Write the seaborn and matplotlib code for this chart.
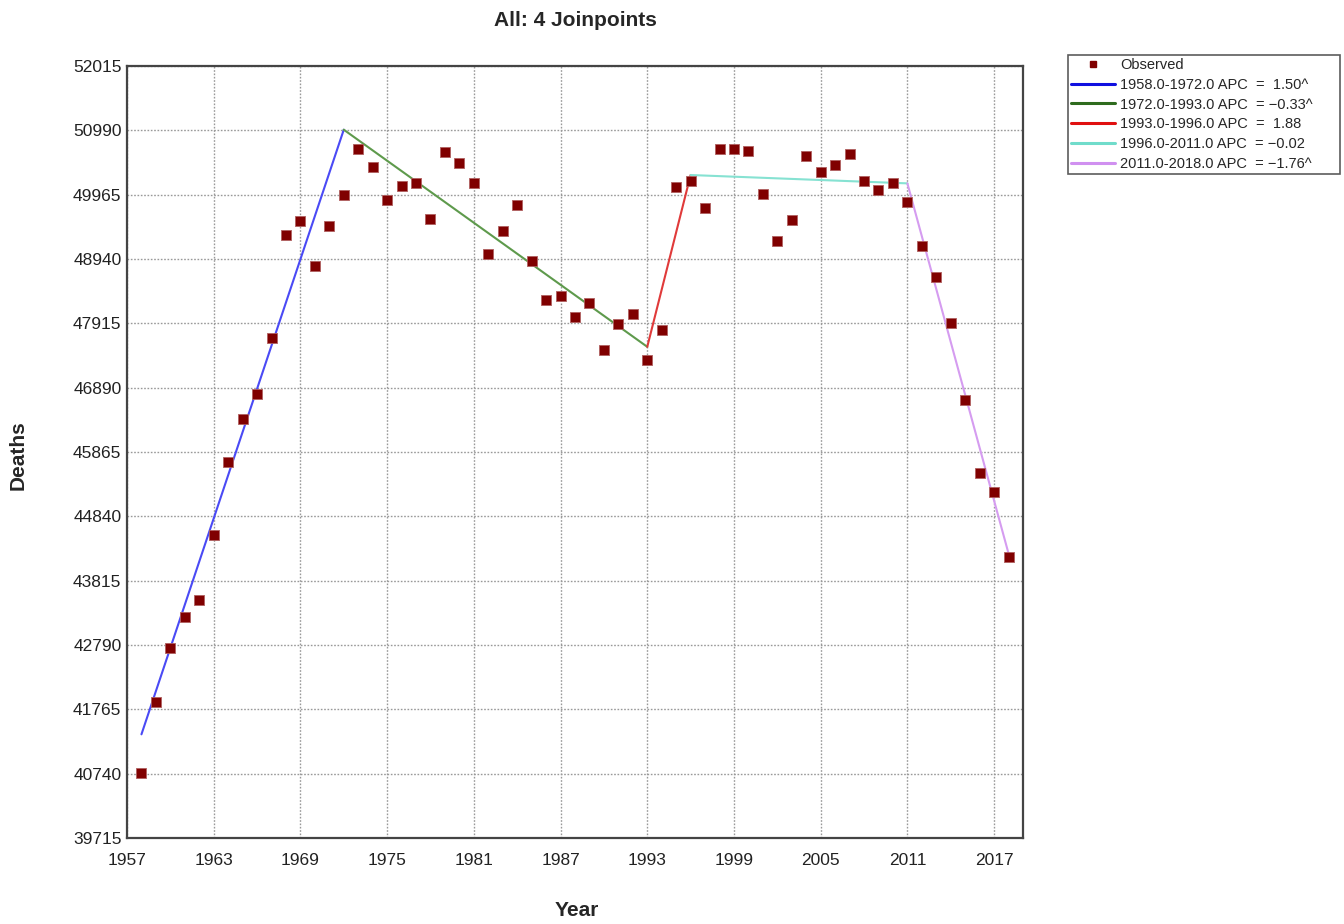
import matplotlib
matplotlib.use("Agg")
import matplotlib.pyplot as plt
import seaborn as sns
import pandas as pd
import numpy as np
from matplotlib.lines import Line2D

years = list(range(1958, 2019))
deaths = [40745, 41882, 42749, 43237, 43503, 44539, 45698, 46393, 46782, 47679,
          49316, 49549, 48832, 49460, 49954, 50692, 50410, 49874, 50107, 50145,
          49581, 50649, 50464, 50155, 49023, 49385, 49799, 48912, 48280, 48349,
          48014, 48237, 47488, 47908, 48057, 47323, 47807, 50092, 50182, 49757,
          50697, 50697, 50665, 49975, 49225, 49555, 50586, 50331, 50442, 50618,
          50177, 50038, 50155, 49847, 49146, 48647, 47913, 46691, 45538, 45230,
          44194]

seg_labels = ["1958.0-1972.0 APC  =  1.50^", "1972.0-1993.0 APC  = \u22120.33^",
              "1993.0-1996.0 APC  =  1.88", "1996.0-2011.0 APC  = \u22120.02",
              "2011.0-2018.0 APC  = \u22121.76^"]
seg_start_year = [1958, 1972, 1993, 1996, 2011]
seg_end_year = [1972, 1993, 1996, 2011, 2018]
seg_start_val = [41367, 51000, 47541, 50278, 50145]
seg_end_val = [51000, 47541, 50278, 50145, 44247]
seg_colors = ["#4a4af5", "#5e9a4c", "#e03a3a", "#86e2d2", "#d59cf0"]
legend_colors = ["#1010e0", "#2e6b1e", "#e01010", "#70dccb", "#d090f0"]

xticks = list(range(1957, 2018, 6))
yticks = list(range(39715, 52016, 1025))

sns.set_theme(style="white")
plt.rcParams['font.family'] = ['Liberation Sans', 'DejaVu Sans']

fig = plt.figure(figsize=(13.44, 9.24), dpi=100)
ax = fig.add_axes([127/1344, 1-838/924, (1023-127)/1344, (838-66)/924])

obs = pd.DataFrame({"Year": years, "Deaths": deaths})
for i in range(len(seg_labels)):
    seg = pd.DataFrame({"Year": [seg_start_year[i], seg_end_year[i]],
                        "Deaths": [seg_start_val[i], seg_end_val[i]]})
    sns.lineplot(data=seg, x="Year", y="Deaths", ax=ax, color=seg_colors[i],
                 linewidth=1.5, zorder=2, legend=False)
sns.scatterplot(data=obs, x="Year", y="Deaths", ax=ax, marker="s", s=62,
                color="#800000", edgecolor="#b06060", linewidth=0.6, zorder=3,
                legend=False)

ax.set_xlim(1957, 2019)
ax.set_ylim(39715, 52015)
ax.set_xticks(xticks)
ax.set_yticks(yticks)
ax.set_xticklabels([str(t) for t in xticks], fontsize=12.5, color="#222222")
ax.set_yticklabels([str(t) for t in yticks], fontsize=12.5, color="#222222")
ax.tick_params(axis="y", length=0, pad=4)
ax.tick_params(axis="x", length=0, pad=11)
ax.grid(True, color="#999999", linestyle=(0, (1.2, 1.2)), linewidth=1.0)
for sp in ax.spines.values():
    sp.set_color("#444444")
    sp.set_linewidth(1.6)
ax.set_xlabel("")
ax.set_ylabel("")

fig.text(575/1344, 1-20/924, "All: 4 Joinpoints", ha="center", va="center",
         fontsize=15, fontweight="bold")
fig.text(18/1344, 1-455/924, "Deaths", ha="center", va="center", rotation=90,
         fontsize=15, fontweight="bold")
fig.text(577/1344, 1-910/924, "Year", ha="center", va="center",
         fontsize=15, fontweight="bold")

handles = [Line2D([], [], marker="s", linestyle="none", color="#800000",
                  markersize=5)]
handles += [Line2D([], [], color=c, linewidth=2.2) for c in legend_colors]
labels = ["Observed"] + seg_labels
x0, x1 = 1068/1344, 1340/1344
leg = fig.legend(handles, labels, loc="upper left",
                 bbox_to_anchor=(x0, 1-180/924, x1 - x0, (180-55)/924),
                 mode="expand", fontsize=10.5,
                 frameon=True, fancybox=False, handlelength=3.0,
                 handletextpad=0.4, labelspacing=0.4, borderpad=0.2,
                 borderaxespad=0)
leg.get_frame().set_edgecolor("#333333")
leg.get_frame().set_linewidth(1.2)

fig.savefig("out.png", dpi=100)
